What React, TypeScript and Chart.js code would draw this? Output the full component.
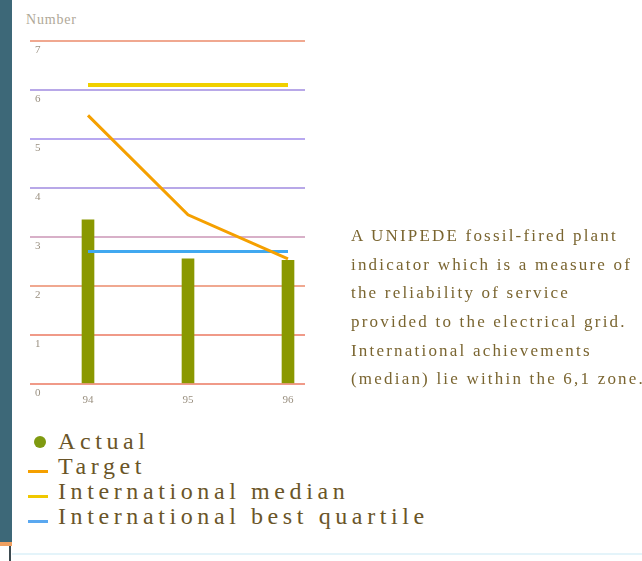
import React, { useEffect, useRef } from "react";
import { Chart, registerables } from "chart.js";

Chart.register(...registerables);

const years = [94, 95, 96];
const actual = [3.35, 2.55, 2.52];
const target = [5.48, 3.45, 2.55];
const intlMedian = [6.1, 6.1, 6.1];
const intlBestQuartile = [2.7, 2.7, 2.7];
const yTicks = [0, 1, 2, 3, 4, 5, 6, 7];

const gridColors = ["#f09a88", "#f09a88", "#f0a890", "#d8b0c8", "#b8a8e8", "#b8a8f0", "#b8a8e8", "#f0a890"];

const legendItems = [
  { label: "Actual", kind: "dot", color: "#7f9a10" },
  { label: "Target", kind: "dash", color: "#f5a000" },
  { label: "International median", kind: "dash", color: "#f0c800" },
  { label: "International best quartile", kind: "dash", color: "#5aa8f0" },
];

const paragraph = [
  "A UNIPEDE fossil-fired plant",
  "indicator which is a measure of",
  "the reliability of service",
  "provided to the electrical grid.",
  "International achievements",
  "(median) lie within the 6,1 zone.",
];

function ChartCanvas() {
  const ref = useRef<HTMLCanvasElement | null>(null);
  useEffect(() => {
    if (!ref.current) return;
    const toXY = (arr: number[]) => arr.map((v, i) => ({ x: years[i], y: v }));
    const chart = new Chart(ref.current, {
      type: "bar",
      data: {
        datasets: [
          {
            type: "line",
            label: "International median",
            data: toXY(intlMedian),
            borderColor: "#f0d000",
            borderWidth: 4,
            pointRadius: 0,
            order: 1,
          },
          {
            type: "line",
            label: "Target",
            data: toXY(target),
            borderColor: "#f5a000",
            borderWidth: 3,
            pointRadius: 0,
            order: 0,
          },
          {
            type: "line",
            label: "International best quartile",
            data: toXY(intlBestQuartile),
            borderColor: "#40a8f0",
            borderWidth: 3,
            pointRadius: 0,
            order: 1,
          },
          {
            type: "bar",
            label: "Actual",
            data: toXY(actual),
            backgroundColor: "#8a9800",
            barThickness: 12,
            order: 2,
          } as any,
        ],
      },
      options: {
        animation: false,
        responsive: false,
        layout: { padding: { left: 20, right: 337, top: 41, bottom: 11 } },
        plugins: { legend: { display: false }, tooltip: { enabled: false } },
        scales: {
          x: {
            type: "linear",
            offset: false,
            min: 93.42,
            max: 96.17,
            grid: { display: false },
            border: { display: false },
            afterBuildTicks: (scale: any) => {
              scale.ticks = years.map((v) => ({ value: v }));
            },
            ticks: {
              maxRotation: 0,
              autoSkip: false,
              padding: 2,
              color: "#9a9080",
              font: { family: "Liberation Serif", size: 11 },
              callback: (v: any) => String(v),
            },
          },
          y: {
            min: 0,
            max: 7,
            afterBuildTicks: (scale: any) => {
              scale.ticks = yTicks.map((v) => ({ value: v }));
            },
            grid: {
              drawTicks: false,
              lineWidth: 2,
              color: (ctx: any) => gridColors[ctx.index] || "#c0b0e0",
            },
            border: { display: false },
            ticks: {
              mirror: true,
              padding: 5,
              labelOffset: 9,
              color: "#9a9080",
              font: { family: "Liberation Serif", size: 11 },
            },
          },
        },
      },
    });
    return () => chart.destroy();
  }, []);
  return (
    <canvas
      ref={ref}
      width={642}
      height={420}
      style={{ position: "absolute", left: 0, top: 0, width: 642, height: 420 }}
    />
  );
}

export default function App() {
  const textColor = "#6a5528";
  return (
    <div
      style={{
        position: "fixed",
        left: 0,
        top: 0,
        width: 642,
        height: 561,
        background: "#ffffff",
        overflow: "hidden",
        fontFamily: "'Liberation Serif', serif",
      }}
    >
      <div style={{ position: "absolute", left: 0, top: 0, width: 12, height: 542, background: "#3d6878" }} />
      <div style={{ position: "absolute", left: 0, top: 542, width: 12, height: 4, background: "#f0a060" }} />
      <div style={{ position: "absolute", left: 9, top: 546, width: 2, height: 15, background: "#3d4a50" }} />
      <div style={{ position: "absolute", left: 12, top: 553, width: 630, height: 2, background: "#e4f4fa" }} />
      <div
        style={{
          position: "absolute",
          left: 26,
          top: 12,
          fontSize: 14,
          color: "#b0a898",
          letterSpacing: 0.8,
        }}
      >
        Number
      </div>
      <ChartCanvas />
      <div style={{ position: "absolute", left: 351, top: 222 }}>
        {paragraph.map((line, i) => (
          <div
            key={i}
            style={{
              height: 28.7,
              lineHeight: "28.7px",
              fontSize: 17,
              letterSpacing: 2.2,
              color: "#7a6530",
              whiteSpace: "nowrap",
            }}
          >
            {line}
          </div>
        ))}
      </div>
      <div style={{ position: "absolute", left: 26, top: 429 }}>
        {legendItems.map((it, i) => (
          <div key={i} style={{ position: "relative", height: 25, lineHeight: "25px" }}>
            {it.kind === "dot" ? (
              <span
                style={{
                  position: "absolute",
                  left: 8,
                  top: 7,
                  width: 12,
                  height: 12,
                  borderRadius: 6,
                  background: it.color,
                }}
              />
            ) : (
              <span
                style={{
                  position: "absolute",
                  left: 2,
                  top: 16,
                  width: 20,
                  height: 3,
                  background: it.color,
                }}
              />
            )}
            <span
              style={{
                position: "absolute",
                left: 32,
                top: 0,
                fontSize: 24,
                letterSpacing: 4.6,
                color: textColor,
                whiteSpace: "nowrap",
              }}
            >
              {it.label}
            </span>
          </div>
        ))}
      </div>
    </div>
  );
}
